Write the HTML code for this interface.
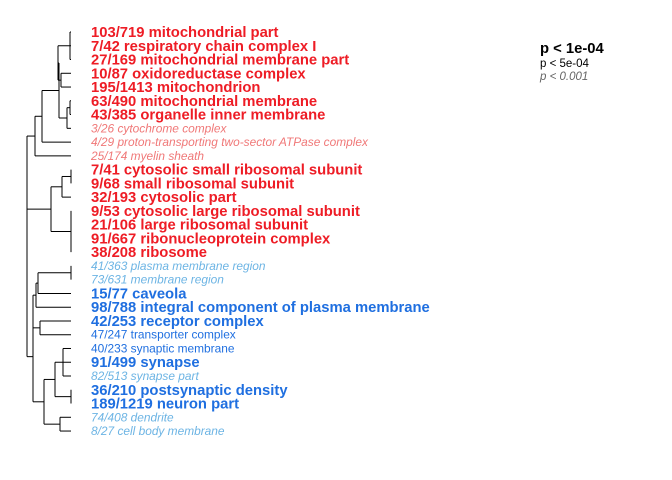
<!DOCTYPE html>
<html><head><meta charset="utf-8"><style>
body{margin:0;background:#fff;width:672px;height:480px;overflow:hidden;font-family:"Liberation Sans",sans-serif}
svg{position:absolute;left:0;top:0}
</style></head><body>
<svg width="672" height="480">
<g id="tree"></g>
<g id="labels"></g>
<g>
<text x="540" y="53" font-size="14.8" font-weight="bold" fill="#000">p &lt; 1e-04</text>
<text x="540" y="67" font-size="11.5" fill="#000">p &lt; 5e-04</text>
<text x="540" y="80" font-size="11.5" font-style="italic" fill="#666">p &lt; 0.001</text>
</g>
</svg>
<script>
const labels=["103/719 mitochondrial part","7/42 respiratory chain complex I","27/169 mitochondrial membrane part","10/87 oxidoreductase complex","195/1413 mitochondrion","63/490 mitochondrial membrane","43/385 organelle inner membrane","3/26 cytochrome complex","4/29 proton-transporting two-sector ATPase complex","25/174 myelin sheath","7/41 cytosolic small ribosomal subunit","9/68 small ribosomal subunit","32/193 cytosolic part","9/53 cytosolic large ribosomal subunit","21/106 large ribosomal subunit","91/667 ribonucleoprotein complex","38/208 ribosome","41/363 plasma membrane region","73/631 membrane region","15/77 caveola","98/788 integral component of plasma membrane","42/253 receptor complex","47/247 transporter complex","40/233 synaptic membrane","91/499 synapse","82/513 synapse part","36/210 postsynaptic density","189/1219 neuron part","74/408 dendrite","8/27 cell body membrane"];
const group=["r","r","r","r","r","r","r","R","R","R","r","r","r","r","r","r","r","B","B","b","b","b","m","m","b","B","b","b","B","B"];
// tree: [mergeX, children...]
const tree=[27,
 [35,[42,[59,[58,[70,0,1,2],[61,3,4]],[67,[70,5,6],7]],8],9],
 [51,[62,[71,10,11],12],[71,13,14,15,16]],
 [33,[33,[36,[38,[71,17,18],19],20],[40,21,22]],
     [44,[55,[63,23,24,25],[71,26,27]],[60,28,29]]]];
const styles={r:["#ee1c25",14.8,"bold","normal"],R:["#f07878",11.9,"normal","italic"],b:["#1f6fe0",14.8,"bold","normal"],m:["#1f6fe0",11.9,"normal","normal"],B:["#6cb4e4",11.9,"normal","italic"]};
const y0=32,dy=13.76,leafX=71;
const yOf=i=>y0+dy*i;
const tg=document.getElementById('tree'),lg=document.getElementById('labels');
const NS="http://www.w3.org/2000/svg";
function line(x1,y1,x2,y2){const l=document.createElementNS(NS,'line');
l.setAttribute('x1',x1);l.setAttribute('y1',y1);l.setAttribute('x2',x2);l.setAttribute('y2',y2);
l.setAttribute('stroke','#000');l.setAttribute('stroke-width','1');


tg.appendChild(l);}
function draw(n){ if(typeof n==='number') return [leafX,yOf(n)];
 const x=n[0];const ys=[];
 for(let k=1;k<n.length;k++){const [cx,cy]=draw(n[k]);line(x,cy,cx,cy);ys.push(cy);}
 const a=Math.min(...ys),b=Math.max(...ys);line(x,a,x,b);return [x,(a+b)/2];}
draw(tree);
labels.forEach((s,i)=>{const st=styles[group[i]];const t=document.createElementNS(NS,'text');
t.setAttribute('x',91);t.setAttribute('y',yOf(i)+(st[1]>12?5:4));
t.setAttribute('fill',st[0]);t.setAttribute('font-size',st[1]);t.setAttribute('font-weight',st[2]);t.setAttribute('font-style',st[3]);
t.textContent=s;


lg.appendChild(t);});
</script>
</body></html>
